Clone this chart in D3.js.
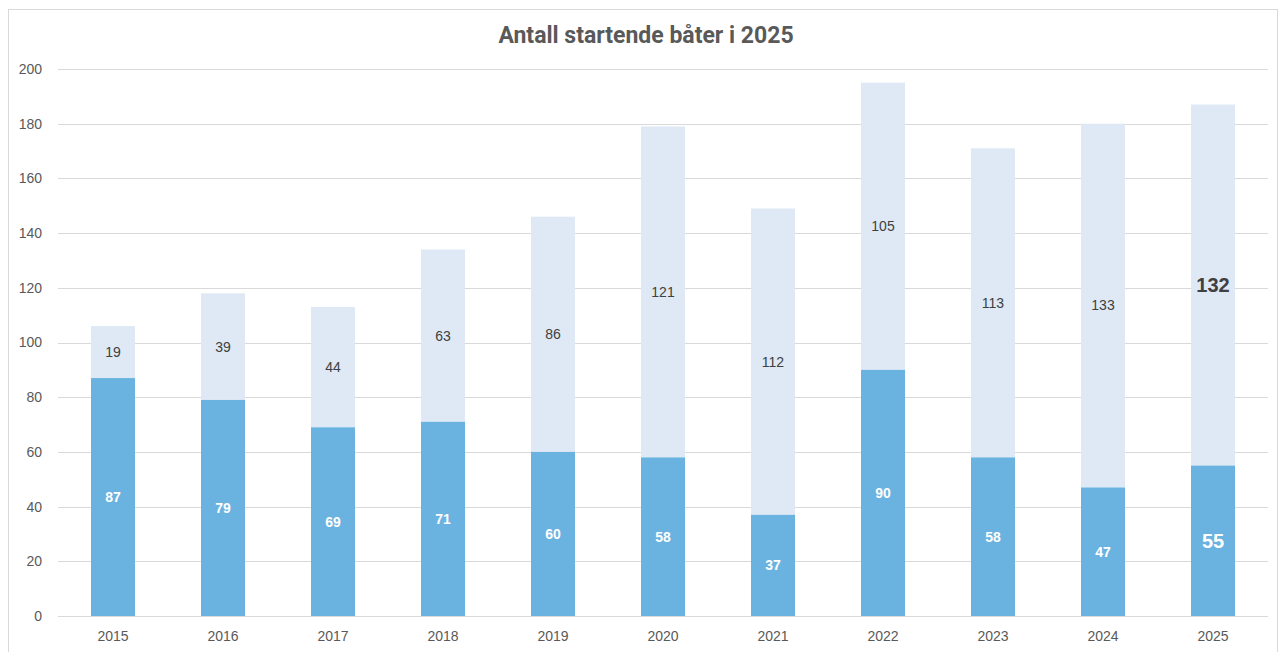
<!DOCTYPE html>
<html><head><meta charset="utf-8">
<script src="https://cdn.jsdelivr.net/npm/d3@7"></script>
<style>body{margin:0;background:#fff}svg{display:block}</style>
</head><body>
<script>
const years = ["2015","2016","2017","2018","2019","2020","2021","2022","2023","2024","2025"];
const lowerValues = [87,79,69,71,60,58,37,90,58,47,55];
const upperValues = [19,39,44,63,86,121,112,105,113,133,132];
const yTicks = [0,20,40,60,80,100,120,140,160,180,200];
const title = "Antall startende båter i 2025";

const W = 1285, H = 652;
const m = {left:58, right:1268, top:69, bottom:616};
const svg = d3.select("body").append("svg").attr("width",W).attr("height",H);
svg.append("rect").attr("x",8.5).attr("y",9.5).attr("width",1269).attr("height",660)
  .attr("fill","#fff").attr("stroke","#d9d9d9");

const x = d3.scaleBand().domain(years).range([m.left,m.right]).paddingInner(0.6).paddingOuter(0.3);
const y = d3.scaleLinear().domain([0,200]).range([m.bottom,m.top]);

const font = "'Liberation Sans', Arial, sans-serif";
svg.append("g").selectAll("line").data(yTicks).join("line")
  .attr("x1",m.left).attr("x2",m.right).attr("y1",d=>Math.round(y(d))+0.5).attr("y2",d=>Math.round(y(d))+0.5)
  .attr("stroke","#d9d9d9").attr("stroke-width",1);

const yAxis = svg.append("g").attr("transform",`translate(${m.left},0)`)
  .call(d3.axisLeft(y).tickValues(yTicks).tickSize(0).tickPadding(16));
yAxis.select(".domain").remove();
yAxis.selectAll("text").attr("font-family",font).attr("font-size",14).attr("fill","#595959");

const xAxis = svg.append("g").attr("transform",`translate(0,${m.bottom})`)
  .call(d3.axisBottom(x).tickSize(0).tickPadding(15));
xAxis.select(".domain").remove();
xAxis.selectAll("text").attr("font-family",font).attr("font-size",14).attr("fill","#595959");

const data = years.map((yr,i)=>({yr, lo:lowerValues[i], up:upperValues[i]}));
svg.append("g").selectAll("rect").data(data).join("rect")
  .attr("x",d=>x(d.yr)).attr("width",x.bandwidth())
  .attr("y",d=>y(d.lo+d.up)).attr("height",d=>y(d.lo)-y(d.lo+d.up)).attr("fill","#dee9f5");
svg.append("g").selectAll("rect").data(data).join("rect")
  .attr("x",d=>x(d.yr)).attr("width",x.bandwidth())
  .attr("y",d=>y(d.lo)).attr("height",d=>y(0)-y(d.lo)).attr("fill","#6ab3e0");

const last = years[years.length-1];
svg.append("g").selectAll("text").data(data).join("text")
  .attr("x",d=>x(d.yr)+x.bandwidth()/2).attr("y",d=>y(d.lo/2))
  .attr("dy","0.35em").attr("text-anchor","middle").attr("font-family",font)
  .attr("font-weight","bold").attr("fill","#fff")
  .attr("font-size",d=>d.yr===last?20:14).text(d=>d.lo);
svg.append("g").selectAll("text").data(data).join("text")
  .attr("x",d=>x(d.yr)+x.bandwidth()/2).attr("y",d=>y(d.lo+d.up/2))
  .attr("dy","0.35em").attr("text-anchor","middle").attr("font-family",font)
  .attr("font-weight",d=>d.yr===last?"bold":"normal").attr("fill","#404040")
  .attr("font-size",d=>d.yr===last?20:14).text(d=>d.up);

svg.append("text").attr("x",646).attr("y",43).attr("text-anchor","middle")
  .attr("font-family","Roboto, Arial, sans-serif").attr("font-weight","bold")
  .attr("font-size",23).attr("fill","#595959").text(title);
</script>
</body></html>
